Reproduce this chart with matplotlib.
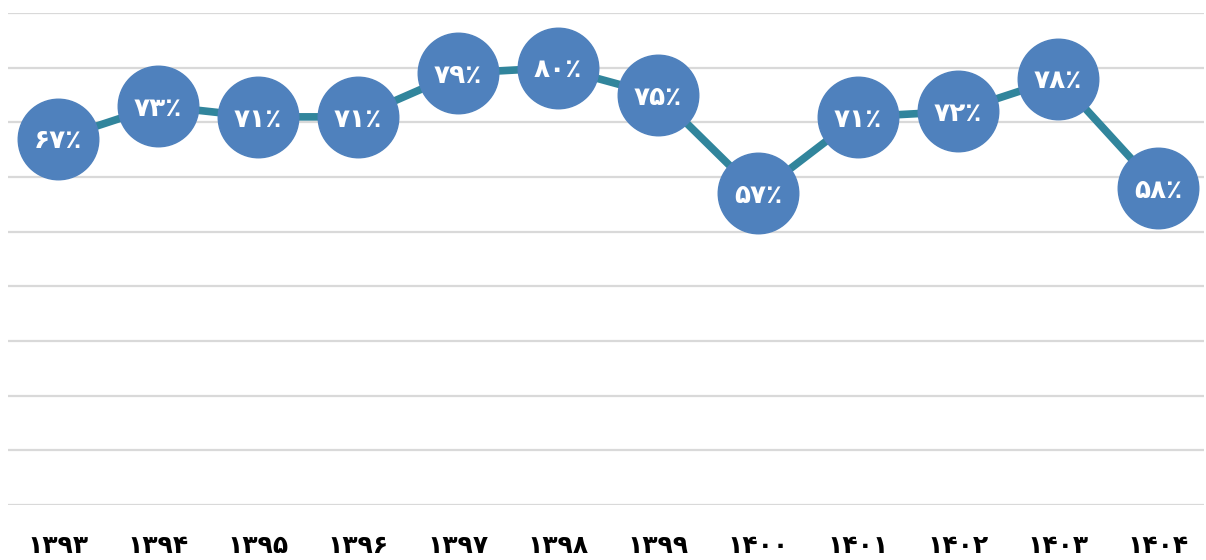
import matplotlib
matplotlib.use("Agg")
import matplotlib.pyplot as plt
import numpy as np

plt.rcParams['font.family'] = ['DejaVu Sans']

years = ["۱۳۹۳", "۱۳۹۴", "۱۳۹۵", "۱۳۹۶", "۱۳۹۷", "۱۳۹۸",
         "۱۳۹۹", "۱۴۰۰", "۱۴۰۱", "۱۴۰۲", "۱۴۰۳", "۱۴۰۴"]
values = [67, 73, 71, 71, 79, 80, 75, 57, 71, 72, 78, 58]


def to_fa(n):
    digits = "۰۱۲۳۴۵۶۷۸۹"
    return "".join(digits[int(c)] for c in str(n))


fig = plt.figure(figsize=(12.06, 5.6), dpi=100)
ax = fig.add_axes([8 / 1206, 1 - 505 / 560, 1196 / 1206, 492 / 560])

x = np.arange(len(values))
y = np.array(values) / 100.0

ax.set_ylim(0, 0.9)
ax.set_xlim(-0.5, 11.46)
ax.set_yticks(np.arange(0, 0.91, 0.1))
ax.yaxis.grid(True, color="#d9d9d9", linewidth=1.6)
ax.set_axisbelow(True)
for s in ax.spines.values():
    s.set_visible(False)
ax.tick_params(axis='both', length=0)
ax.set_yticklabels([])

ax.plot(x, y, color="#31859c", linewidth=5.5, solid_capstyle='round',
        zorder=3, clip_on=False)
ax.plot(x, y, linestyle='none', marker='o', markersize=58,
        markerfacecolor="#4f81bd", markeredgecolor="#4f81bd",
        zorder=4, clip_on=False)

for xi, yi, v in zip(x, y, values):
    ax.text(xi, yi - 0.005, to_fa(v) + "٪", color="white", fontsize=19,
            fontweight='bold', ha='center', va='center', zorder=5)

ax.set_xticks(x)
ax.set_xticklabels(years, fontsize=18, fontweight='bold')
ax.tick_params(axis='x', pad=21)

fig.savefig("out.png", dpi=100)
